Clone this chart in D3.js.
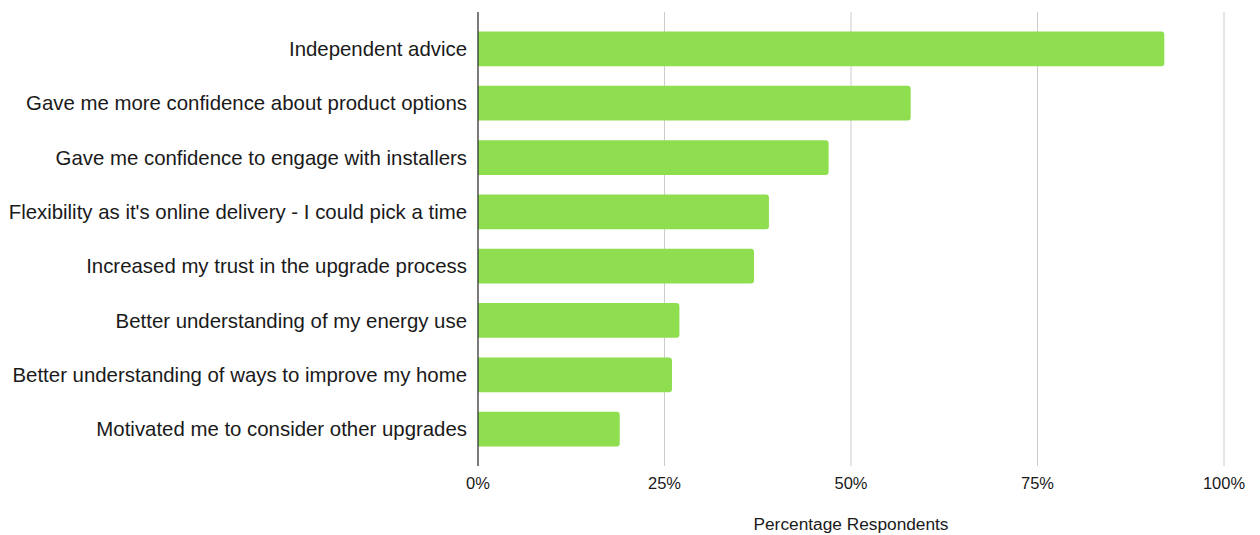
<!DOCTYPE html>
<html>
<head>
<meta charset="utf-8">
<script src="https://cdn.jsdelivr.net/npm/d3@7"></script>
<style>
  html, body { margin: 0; padding: 0; background: #fff; }
  svg { display: block; font-family: "Liberation Sans", Arial, sans-serif; }
</style>
</head>
<body>
<svg id="chart" width="1260" height="535"></svg>
<script>
// Reasons respondents valued the service (share of respondents, %)
const categories = [
  "Independent advice",
  "Gave me more confidence about product options",
  "Gave me confidence to engage with installers",
  "Flexibility as it's online delivery - I could pick a time",
  "Increased my trust in the upgrade process",
  "Better understanding of my energy use",
  "Better understanding of ways to improve my home",
  "Motivated me to consider other upgrades"
];
const values = [92, 58, 47, 39, 37, 27, 26, 19];
const tickValues = [0, 25, 50, 75, 100];
const axisTitle = "Percentage Respondents";

const svg = d3.select("#chart");
const margin = { left: 478, right: 36, top: 12, bottom: 69 };
const width = 1260, height = 535;

const x = d3.scaleLinear().domain([0, 100]).range([margin.left, width - margin.right]);
const y = d3.scaleBand().domain(categories)
  .range([margin.top, height - margin.bottom])
  .paddingInner(0.36).paddingOuter(0.36);

// vertical gridlines
svg.append("g")
  .selectAll("line")
  .data(tickValues.filter(d => d > 0))
  .join("line")
  .attr("x1", d => x(d)).attr("x2", d => x(d))
  .attr("y1", margin.top).attr("y2", height - margin.bottom)
  .attr("stroke", "#cccccc").attr("stroke-width", 1);

// bars, right end rounded
const r = 3;
svg.append("g")
  .selectAll("path")
  .data(values)
  .join("path")
  .attr("fill", "#8ede50")
  .attr("d", (d, i) => {
    const x0 = x(0), x1 = x(d), y0 = y(categories[i]), h = y.bandwidth();
    return `M${x0},${y0}H${x1 - r}Q${x1},${y0} ${x1},${y0 + r}V${y0 + h - r}Q${x1},${y0 + h} ${x1 - r},${y0 + h}H${x0}Z`;
  });

// zero baseline
svg.append("line")
  .attr("x1", x(0)).attr("x2", x(0))
  .attr("y1", margin.top).attr("y2", height - margin.bottom)
  .attr("stroke", "#333333").attr("stroke-width", 1.3);

// category labels
svg.append("g")
  .selectAll("text")
  .data(categories)
  .join("text")
  .attr("x", x(0) - 11)
  .attr("y", d => y(d) + y.bandwidth() / 2)
  .attr("dy", "0.35em")
  .attr("text-anchor", "end")
  .attr("font-size", 20.4)
  .attr("fill", "#1a1a1a")
  .text(d => d);

// x tick labels
svg.append("g")
  .selectAll("text")
  .data(tickValues)
  .join("text")
  .attr("x", d => x(d))
  .attr("y", height - margin.bottom + 23)
  .attr("text-anchor", "middle")
  .attr("font-size", 16.5)
  .attr("fill", "#1a1a1a")
  .text(d => d + "%");

// axis title
svg.append("text")
  .attr("x", x(50))
  .attr("y", 530)
  .attr("text-anchor", "middle")
  .attr("font-size", 17.3)
  .attr("fill", "#1a1a1a")
  .text(axisTitle);
</script>
</body>
</html>
